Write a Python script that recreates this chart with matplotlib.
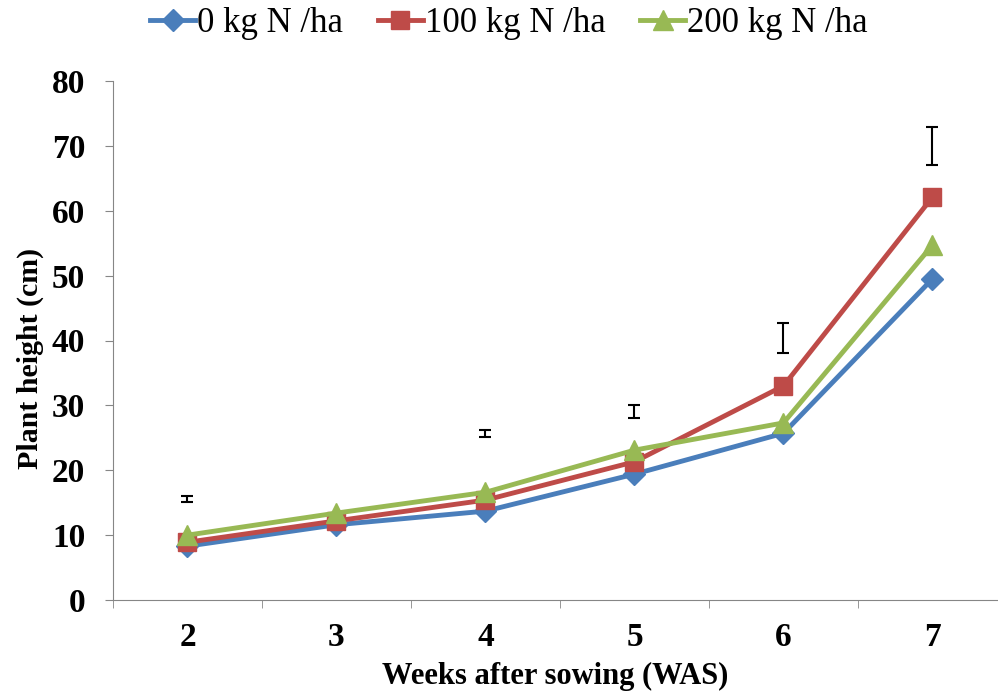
import numpy as np
import matplotlib.pyplot as plt

plt.rcParams['font.family'] = ['Liberation Serif', 'DejaVu Serif']

weeks = ['2', '3', '4', '5', '6', '7']
n0 = [8.3, 11.6, 13.7, 19.4, 25.7, 49.5]
n100 = [8.9, 12.2, 15.4, 21.3, 33.0, 62.1]
n200 = [10.0, 13.4, 16.6, 23.1, 27.3, 54.7]

# LSD bars drawn above each week (none at week 3)
lsd_weeks = [0, 2, 3, 4, 5]
lsd_center = [15.6, 25.7, 29.0, 40.4, 70.0]
lsd_half = [0.5, 0.5, 1.0, 2.3, 2.9]

fig = plt.figure(figsize=(9.98, 7.0), dpi=100)
ax = fig.add_axes([113 / 998, 100 / 700, 1 - 113 / 998, 519 / 700])

x = np.arange(len(weeks))
ax.plot(x, n0, color='#4A7EBB', lw=3.5, marker='D', ms=11, label='0 kg N /ha')
ax.plot(x, n100, color='#BE4B48', lw=3.5, marker='s', ms=13, label='100 kg N /ha')
ax.plot(x, n200, color='#98B954', lw=3.5, marker='^', ms=14, label='200 kg N /ha')
ax.errorbar(lsd_weeks, lsd_center, yerr=lsd_half, fmt='none', ecolor='black',
            elinewidth=1.5, capsize=4.5, capthick=1.5)

ax.set_xlim(-0.5, 5.44)
ax.set_ylim(0, 80)
ax.set_yticks(range(0, 81, 10))
ax.set_xticks(x)
ax.set_xticklabels(weeks)
ax.set_xticks(np.arange(-0.5, 5.5, 1), minor=True)
ax.tick_params(axis='x', which='major', length=0, pad=16)
ax.tick_params(axis='x', which='minor', length=6, color='#868686', direction='out')
ax.tick_params(axis='y', length=6, color='#868686', direction='out', pad=14)
for lab in ax.get_xticklabels() + ax.get_yticklabels():
    lab.set_fontsize(24)
    lab.set_fontweight('bold')

for s in ['top', 'right']:
    ax.spines[s].set_visible(False)
for s in ['left', 'bottom']:
    ax.spines[s].set_color('#868686')

ax.set_xlabel('Weeks after sowing (WAS)', fontsize=22, fontweight='bold', labelpad=6)
ax.set_ylabel('Plant height (cm)', fontsize=21.5, fontweight='bold', labelpad=6)
ax.yaxis.label.set_y(0.465)

fig.legend(loc='upper center', bbox_to_anchor=(0.51, 1.035), ncol=3, frameon=False,
           fontsize=25, handlelength=1.3, handletextpad=0.05, columnspacing=1.0)

fig.savefig('out.png', dpi=100)
